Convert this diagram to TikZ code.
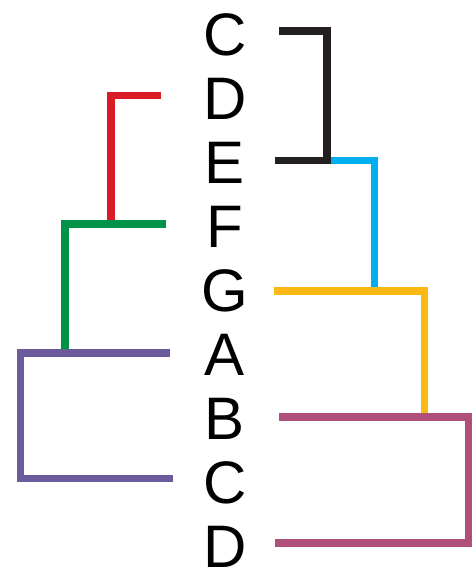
\documentclass[tikz,border=0pt]{standalone}
\usepackage{fontspec}
\setmainfont{Liberation Sans}
\definecolor{cblack}{HTML}{231F20}
\definecolor{cblue}{HTML}{00AEEF}
\definecolor{cyellow}{HTML}{FDB913}
\definecolor{cmag}{HTML}{AF507B}
\definecolor{cred}{HTML}{DA1C24}
\definecolor{cgreen}{HTML}{009247}
\definecolor{cpurple}{HTML}{6B5A9C}
\begin{document}
\begin{tikzpicture}[x=1pt,y=-1pt,
  note/.style={font=\fontsize{60}{60}\selectfont, anchor=base, inner sep=0pt},
  bracket/.style={line width=7.5pt, line join=miter, line cap=butt}]
\useasboundingbox (0,0) rectangle (472,571);
\foreach \t/\n [count=\i from 0] in {C/n0,D/n1,E/n2,F/n3,G/n4,A/n5,B/n6,C/n7,D/n8}{
  \node[note] (\n) at (225,{34.5+64.0*\i+21.3}) {\t};
}
% right side
\coordinate (bk1) at (279,31);
\coordinate (bk2) at (327,31);
\coordinate (bk3) at (327,160.5);
\coordinate (bk4) at (275,160.5);
\coordinate (bl2) at (374.5,160.5);
\coordinate (bl3) at (374.5,291);
\coordinate (ye1) at (274,291);
\coordinate (ye2) at (424.5,291);
\coordinate (ye3) at (424.5,417);
\coordinate (mg1) at (279,417);
\coordinate (mg2) at (468.5,417);
\coordinate (mg3) at (468.5,543);
\coordinate (mg4) at (275,543);
\draw[bracket,cblue] (bk3) -- (bl2) -- (bl3);
\draw[bracket,cblack] (bk1) -- (bk2) -- (bk3) -- (bk4);
\draw[bracket,cyellow] (ye1) -- (ye2) -- (ye3);
\draw[bracket,cmag] (mg1) -- (mg2) -- (mg3) -- (mg4);
% left side
\coordinate (rd1) at (161,95.5);
\coordinate (rd2) at (111,95.5);
\coordinate (rd3) at (111,224);
\coordinate (gr1) at (166,224);
\coordinate (gr2) at (65,224);
\coordinate (gr3) at (65,353);
\coordinate (pu1) at (170,353);
\coordinate (pu2) at (20.5,353);
\coordinate (pu3) at (20.5,478.5);
\coordinate (pu4) at (173,478.5);
\draw[bracket,cred] (rd1) -- (rd2) -- (rd3);
\draw[bracket,cgreen] (gr1) -- (gr2) -- (gr3);
\draw[bracket,cpurple] (pu1) -- (pu2) -- (pu3) -- (pu4);
\end{tikzpicture}
\end{document}
